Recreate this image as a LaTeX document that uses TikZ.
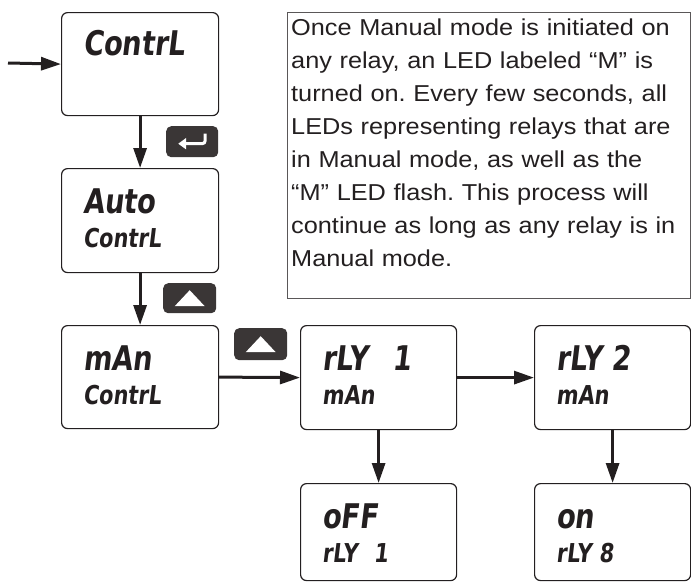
\documentclass[tikz,border=0pt]{standalone}
\usepackage{fontspec}
\setmainfont{Liberation Sans}[FakeStretch=1.1]
\newfontfamily\segfont{DejaVu Sans}[FakeStretch=0.8, FakeSlant=0.12]
\usetikzlibrary{arrows.meta}
\definecolor{ink}{HTML}{231F20}
\definecolor{btn}{HTML}{3A3636}
\tikzset{
  disp/.style={draw=ink, line width=1.2pt, rounded corners=6pt, fill=white, inner sep=0pt, anchor=north west},
  big/.style={font=\segfont\bfseries\fontsize{34}{34}\selectfont, text=ink, anchor=base west, inner sep=0pt},
  small/.style={font=\segfont\bfseries\fontsize{26}{26}\selectfont, text=ink, anchor=base west, inner sep=0pt},
  flow/.style={draw=ink, line width=3pt, -{Triangle[length=20pt,width=13pt]}},
  keybtn/.style={fill=btn, rounded corners=5pt, inner sep=0pt, anchor=north west},
  note/.style={draw=ink!75, line width=0.9pt, inner sep=0pt, anchor=north west}
}
\frenchspacing
\begin{document}
\begin{tikzpicture}[x=1pt,y=-1pt]
\useasboundingbox (0,0) rectangle (691,584);
% display boxes
\node[disp, minimum width=157pt, minimum height=103pt] (b1) at (61,12) {};
\node[disp, minimum width=157pt, minimum height=104pt] (b2) at (61,168) {};
\node[disp, minimum width=157pt, minimum height=103pt] (b3) at (61,325) {};
\node[disp, minimum width=156pt, minimum height=104pt] (b4) at (300,325) {};
\node[disp, minimum width=156pt, minimum height=104pt] (b5) at (534,325) {};
\node[disp, minimum width=156pt, minimum height=97pt] (b6) at (300,483) {};
\node[disp, minimum width=156pt, minimum height=97pt] (b7) at (534,483) {};
% display texts
\node[big] (t1) at (83,55) {ContrL};
\node[big] (t2a) at (83,213) {Auto};
\node[small] (t2b) at (83,247) {ContrL};
\node[big] (t3a) at (83,370) {mAn};
\node[small] (t3b) at (83,404) {ContrL};
\node[big] (t4a) at (322,370) {rLY\hspace{24pt}1};
\node[small] (t4b) at (322,404) {mAn};
\node[big] (t5a) at (556,370) {rLY 2};
\node[small] (t5b) at (556,404) {mAn};
\node[big] (t6a) at (322,528) {oFF};
\node[small] (t6b) at (322,562) {rLY\hspace{16pt}1};
\node[big] (t7a) at (556,528) {on};
\node[small] (t7b) at (556,562) {rLY 8};
% note box
\node[note, minimum width=403pt, minimum height=286pt] (nb) at (287,12) {};
\node[anchor=north west, inner sep=0pt, text width=400pt, align=left,
      font=\fontsize{23}{33}\selectfont, text=ink] (nt) at (291,19)
{Once Manual mode is initiated on\\
any relay, an LED labeled “M” is\\
turned on. Every few seconds, all\\
LEDs representing relays that are\\
in Manual mode, as well as the\\
“M” LED flash. This process will\\
continue as long as any relay is in\\
Manual mode.};
% buttons
\node[keybtn, minimum width=52pt, minimum height=31pt] (k1) at (166,126) {};
\draw[white, line width=3pt, -{Triangle[length=8pt,width=11pt]}]
  ([xshift=13pt,yshift=8pt]k1.center) -- ([xshift=13pt,yshift=1pt]k1.center)
  arc[start angle=0, end angle=-90, radius=3pt] -- ([xshift=-14pt,yshift=-2pt]k1.center);
\node[keybtn, minimum width=53pt, minimum height=30pt] (k2) at (163,283) {};
\fill[white] ([yshift=8pt]k2.center) -- ([xshift=-15pt,yshift=-8pt]k2.center) -- ([xshift=15pt,yshift=-8pt]k2.center) -- cycle;
\node[keybtn, minimum width=53pt, minimum height=32pt] (k3) at (234,328) {};
\fill[white] ([yshift=8pt]k3.center) -- ([xshift=-15pt,yshift=-8pt]k3.center) -- ([xshift=15pt,yshift=-8pt]k3.center) -- cycle;
% connectors
\coordinate (in) at (8,63);
\draw[flow] (in) -- (b1.west);
\draw[flow] (b1.south) -- (b2.north);
\draw[flow] (b2.south) -- (b3.north);
\draw[flow] (b3.east) -- (b4.west);
\draw[flow] (b4.east) -- (b5.west);
\draw[flow] (b4.south) -- (b6.north);
\draw[flow] (b5.south) -- (b7.north);
\end{tikzpicture}
\end{document}
